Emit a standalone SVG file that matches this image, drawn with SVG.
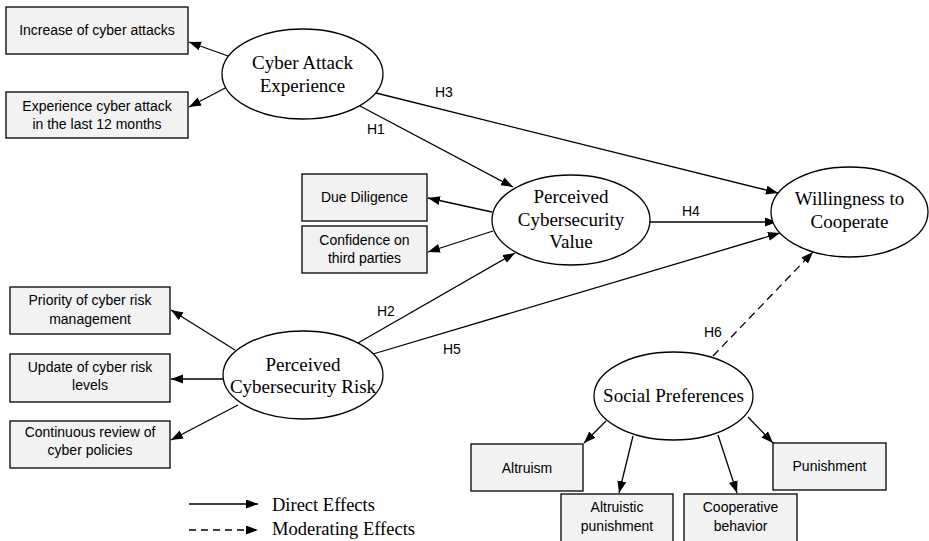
<svg xmlns="http://www.w3.org/2000/svg" width="929" height="541" viewBox="0 0 929 541">
  <style>
    .box { fill: #f2f2f2; stroke: #000; stroke-width: 1.3; }
    .ell { fill: #fff; stroke: #000; stroke-width: 1.3; }
    .bt { font-family: "Liberation Sans", Arial, sans-serif; font-size: 14px; fill: #000; text-anchor: middle; }
    .et { font-family: "Liberation Serif", "Times New Roman", serif; font-size: 19px; fill: #000; text-anchor: middle; }
    .lbl { font-family: "Liberation Sans", Arial, sans-serif; font-size: 14px; fill: #000; }
    .lg { font-family: "Liberation Serif", "Times New Roman", serif; font-size: 18.5px; fill: #000; }
    .ln { stroke: #000; stroke-width: 1.3; fill: none; marker-end: url(#arr); }
    .dash { stroke-dasharray: 8 5; }
  </style>
  <defs>
    <marker id="arr" markerUnits="userSpaceOnUse" markerWidth="13" markerHeight="10" refX="12" refY="4.5" orient="auto">
      <path d="M0,0 L12,4.5 L0,9 z" fill="#000"/>
    </marker>
  </defs>

  <rect width="929" height="541" fill="#fff"/>

  <!-- connectors -->
  <g id="connectors">
    <line class="ln" x1="228" y1="56" x2="189" y2="42"/>
    <line class="ln" x1="229" y1="86" x2="189" y2="107"/>
    <line class="ln" x1="360" y1="106" x2="513" y2="187"/>
    <line class="ln" x1="376" y1="93" x2="778" y2="193"/>
    <line class="ln" x1="492" y1="212" x2="428" y2="198"/>
    <line class="ln" x1="493" y1="231" x2="428" y2="252"/>
    <line class="ln" x1="650" y1="222" x2="777" y2="222"/>
    <line class="ln" x1="358" y1="343" x2="515" y2="253"/>
    <line class="ln" x1="373" y1="354" x2="780" y2="233"/>
    <line class="ln" x1="235" y1="350" x2="171" y2="310"/>
    <line class="ln" x1="223" y1="379" x2="171" y2="379"/>
    <line class="ln" x1="238" y1="405" x2="171" y2="440"/>
    <line class="ln dash" x1="713" y1="356" x2="813" y2="252"/>
    <line class="ln" x1="606" y1="421" x2="584" y2="443"/>
    <line class="ln" x1="633" y1="436" x2="619" y2="493"/>
    <line class="ln" x1="718" y1="435" x2="737" y2="493"/>
    <line class="ln" x1="748" y1="417" x2="773" y2="443"/>
    <text class="lbl" x="367" y="134">H1</text>
    <text class="lbl" x="435" y="97">H3</text>
    <text class="lbl" x="682" y="216">H4</text>
    <text class="lbl" x="377" y="316">H2</text>
    <text class="lbl" x="443" y="354">H5</text>
    <text class="lbl" x="704" y="337">H6</text>
  </g>

  <!-- latent constructs -->
  <g id="cyber-attack-experience">
    <ellipse class="ell" cx="302.5" cy="74" rx="80.5" ry="45"/>
    <text class="et" x="302.5" y="69">Cyber Attack</text>
    <text class="et" x="302.5" y="92">Experience</text>
  </g>
  <g id="perceived-cybersecurity-value">
    <ellipse class="ell" cx="571" cy="220" rx="79" ry="45"/>
    <text class="et" x="571" y="203">Perceived</text>
    <text class="et" x="571" y="226">Cybersecurity</text>
    <text class="et" x="571" y="248">Value</text>
  </g>
  <g id="willingness-to-cooperate">
    <ellipse class="ell" cx="849.5" cy="212" rx="78.5" ry="45"/>
    <text class="et" x="849.5" y="205">Willingness to</text>
    <text class="et" x="849.5" y="228">Cooperate</text>
  </g>
  <g id="perceived-cybersecurity-risk">
    <ellipse class="ell" cx="303" cy="375" rx="80" ry="44"/>
    <text class="et" x="303" y="371">Perceived</text>
    <text class="et" x="303" y="393">Cybersecurity Risk</text>
  </g>
  <g id="social-preferences">
    <ellipse class="ell" cx="673.5" cy="396" rx="79.5" ry="44"/>
    <text class="et" x="673.5" y="402">Social Preferences</text>
  </g>

  <!-- indicators -->
  <g id="increase-of-cyber-attacks">
    <rect class="box" x="6" y="7" width="182" height="47"/>
    <text class="bt" x="97" y="35">Increase of cyber attacks</text>
  </g>
  <g id="experience-cyber-attack">
    <rect class="box" x="6" y="92" width="182" height="46"/>
    <text class="bt" x="97" y="111">Experience cyber attack</text>
    <text class="bt" x="97" y="129">in the last 12 months</text>
  </g>
  <g id="due-diligence">
    <rect class="box" x="302" y="174" width="125" height="47"/>
    <text class="bt" x="364.5" y="202">Due Diligence</text>
  </g>
  <g id="confidence-third-parties">
    <rect class="box" x="302" y="226" width="125" height="47"/>
    <text class="bt" x="364.5" y="245">Confidence on</text>
    <text class="bt" x="364.5" y="263">third parties</text>
  </g>
  <g id="priority-cyber-risk">
    <rect class="box" x="10" y="287" width="160" height="47"/>
    <text class="bt" x="90" y="305">Priority of cyber risk</text>
    <text class="bt" x="90" y="324">management</text>
  </g>
  <g id="update-cyber-risk">
    <rect class="box" x="10" y="354" width="160" height="48"/>
    <text class="bt" x="90" y="372">Update of cyber risk</text>
    <text class="bt" x="90" y="390">levels</text>
  </g>
  <g id="continuous-review">
    <rect class="box" x="10" y="421" width="160" height="47"/>
    <text class="bt" x="90" y="437">Continuous review of</text>
    <text class="bt" x="90" y="455">cyber policies</text>
  </g>
  <g id="altruism">
    <rect class="box" x="471" y="444" width="112" height="47"/>
    <text class="bt" x="527" y="473">Altruism</text>
  </g>
  <g id="altruistic-punishment">
    <rect class="box" x="561" y="494" width="112" height="50"/>
    <text class="bt" x="617" y="512">Altruistic</text>
    <text class="bt" x="617" y="531">punishment</text>
  </g>
  <g id="cooperative-behavior">
    <rect class="box" x="684" y="494" width="113" height="50"/>
    <text class="bt" x="740.5" y="512">Cooperative</text>
    <text class="bt" x="740.5" y="531">behavior</text>
  </g>
  <g id="punishment">
    <rect class="box" x="773" y="443" width="113" height="47"/>
    <text class="bt" x="829.5" y="471">Punishment</text>
  </g>

  <!-- legend -->
  <g id="legend">
    <line class="ln" x1="189" y1="504" x2="258" y2="504"/>
    <text class="lg" x="272" y="511">Direct Effects</text>
    <line class="ln" x1="189" y1="530" x2="258" y2="530" stroke-dasharray="7 5"/>
    <text class="lg" x="272" y="535">Moderating Effects</text>
  </g>
</svg>
